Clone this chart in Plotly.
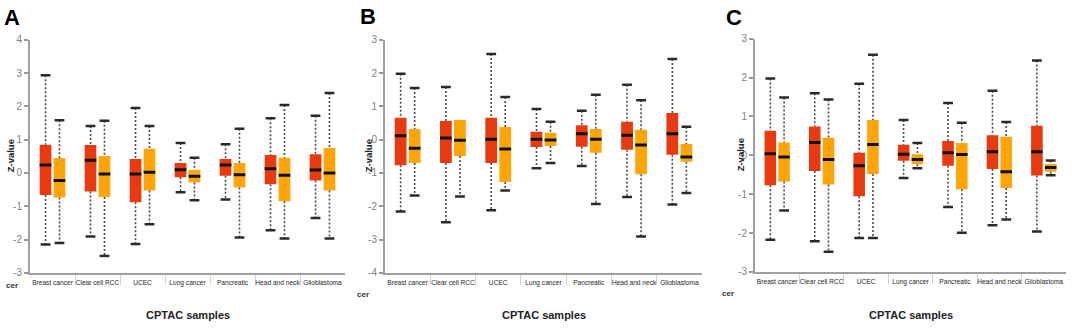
import plotly.graph_objects as go
from plotly.subplots import make_subplots

W, H = 1072, 329

categories = ["Breast cancer", "Clear cell RCC", "UCEC", "Lung cancer",
              "Pancreatic", "Head and neck", "Glioblastoma"]
panel_labels = ["A", "B", "C"]

# Panel A
A_red_upper = [2.93, 1.41, 1.95, 0.90, 0.86, 1.64, 1.72]
A_red_q3 = [0.85, 0.84, 0.42, 0.30, 0.42, 0.54, 0.56]
A_red_med = [0.24, 0.38, -0.03, 0.10, 0.24, 0.13, 0.09]
A_red_q1 = [-0.66, -0.56, -0.88, -0.13, -0.08, -0.34, -0.23]
A_red_lower = [-2.15, -1.91, -2.13, -0.58, -0.80, -1.72, -1.35]
A_org_upper = [1.58, 1.57, 1.41, 0.46, 1.33, 2.04, 2.40]
A_org_q3 = [0.45, 0.51, 0.73, 0.10, 0.30, 0.46, 0.75]
A_org_med = [-0.23, -0.03, 0.02, -0.10, -0.05, -0.07, 0.00]
A_org_q1 = [-0.74, -0.72, -0.53, -0.29, -0.44, -0.85, -0.53]
A_org_lower = [-2.10, -2.49, -1.54, -0.82, -1.94, -1.97, -1.97]

# Panel B
B_red_upper = [1.98, 1.58, 2.57, 0.92, 0.87, 1.65, 2.42]
B_red_q3 = [0.66, 0.56, 0.66, 0.24, 0.43, 0.54, 0.80]
B_red_med = [0.12, 0.05, 0.01, 0.01, 0.18, 0.13, 0.18]
B_red_q1 = [-0.77, -0.70, -0.70, -0.22, -0.21, -0.30, -0.45]
B_red_lower = [-2.16, -2.48, -2.12, -0.86, -0.79, -1.72, -1.95]
B_org_upper = [1.55, 0.59, 1.28, 0.54, 1.35, 1.18, 0.39]
B_org_q3 = [0.32, 0.59, 0.38, 0.21, 0.32, 0.30, -0.13]
B_org_med = [-0.26, -0.02, -0.28, -0.01, 0.01, -0.16, -0.52]
B_org_q1 = [-0.70, -0.49, -1.27, -0.19, -0.39, -1.04, -0.66]
B_org_lower = [-1.68, -1.71, -1.53, -0.70, -1.93, -2.91, -1.60]

# Panel C
C_red_upper = [1.98, 1.60, 1.84, 0.91, 1.35, 1.66, 2.44]
C_red_q3 = [0.63, 0.74, 0.07, 0.27, 0.37, 0.52, 0.76]
C_red_med = [0.04, 0.33, -0.27, 0.03, 0.07, 0.09, 0.09]
C_red_q1 = [-0.77, -0.40, -1.05, -0.14, -0.27, -0.35, -0.52]
C_red_lower = [-2.17, -2.21, -2.13, -0.58, -1.33, -1.80, -1.96]
C_org_upper = [1.49, 1.44, 2.59, 0.32, 0.84, 0.86, -0.13]
C_org_q3 = [0.33, 0.45, 0.91, 0.03, 0.32, 0.48, -0.22]
C_org_med = [-0.04, -0.11, 0.28, -0.11, 0.02, -0.42, -0.31]
C_org_q1 = [-0.67, -0.75, -0.48, -0.23, -0.87, -0.84, -0.42]
C_org_lower = [-1.42, -2.48, -2.13, -0.33, -1.99, -1.65, -0.51]

y_ranges = [[-3, 4], [-4, 3], [-3, 3]]
y_ticks_A = [-3, -2, -1, 0, 1, 2, 3, 4]
y_ticks_B = [-4, -3, -2, -1, 0, 1, 2, 3]
y_ticks_C = [-3, -2, -1, 0, 1, 2, 3]

RED = "#E83A10"
ORANGE = "#FFA50A"
WHISK = "#4a4a4a"
CAP = "#2a2a2a"

panels = [
    (A_red_lower, A_red_q1, A_red_med, A_red_q3, A_red_upper,
     A_org_lower, A_org_q1, A_org_med, A_org_q3, A_org_upper, y_ticks_A),
    (B_red_lower, B_red_q1, B_red_med, B_red_q3, B_red_upper,
     B_org_lower, B_org_q1, B_org_med, B_org_q3, B_org_upper, y_ticks_B),
    (C_red_lower, C_red_q1, C_red_med, C_red_q3, C_red_upper,
     C_org_lower, C_org_q1, C_org_med, C_org_q3, C_org_upper, y_ticks_C),
]

# layout geometry in pixels
x_doms_px = [(30, 345), (385, 702), (755, 1066)]
y_doms_px = [(35, 277), (35, 277), (34, 276)]

fig = make_subplots(rows=1, cols=3)

BOXW = 0.26
OFF = 0.155
LABEL_FONT = "Liberation Sans Narrow, Arial Narrow, Liberation Sans, Arial, sans-serif"

for p, data in enumerate(panels):
    col = p + 1
    series = [(data[0:5], RED, -OFF), (data[5:10], ORANGE, OFF)]
    for (lo, q1, med, q3, up), color, off in series:
        xs = [i + off for i in range(len(categories))]
        # boxes
        fig.add_trace(go.Bar(
            x=xs, y=[b - a for a, b in zip(q1, q3)], base=q1, width=BOXW,
            marker=dict(color=color, line=dict(width=0)),
            showlegend=False, hoverinfo="skip"), row=1, col=col)
        # whiskers (dashed)
        wx, wy = [], []
        for x, l, a, b, u in zip(xs, lo, q1, q3, up):
            if u > b:
                wx += [x, x, None]
                wy += [u, b, None]
            if l < a:
                wx += [x, x, None]
                wy += [a, l, None]
        fig.add_trace(go.Scatter(
            x=wx, y=wy, mode="lines",
            line=dict(color=WHISK, width=1.6, dash="2px,2px"),
            showlegend=False, hoverinfo="skip"), row=1, col=col)
        # caps
        cx, cy = [], []
        for x, l, a, b, u in zip(xs, lo, q1, q3, up):
            if u > b:
                cx.append(x); cy.append(u)
            if l < a:
                cx.append(x); cy.append(l)
        fig.add_trace(go.Scatter(
            x=cx, y=cy, mode="markers",
            marker=dict(symbol="line-ew", size=7, line=dict(width=2.5, color=CAP)),
            showlegend=False, hoverinfo="skip"), row=1, col=col)
        # medians
        mx, my = [], []
        for x, m in zip(xs, med):
            mx += [x - BOXW / 2, x + BOXW / 2, None]
            my += [m, m, None]
        fig.add_trace(go.Scatter(
            x=mx, y=my, mode="lines", line=dict(color="#111111", width=3),
            showlegend=False, hoverinfo="skip"), row=1, col=col)

    x0, x1 = x_doms_px[p]
    yt, yb = y_doms_px[p]
    xa = "xaxis" if p == 0 else f"xaxis{col}"
    ya = "yaxis" if p == 0 else f"yaxis{col}"
    yticks = data[10]
    fig.layout[xa].update(
        domain=[x0 / W, x1 / W], range=[-0.5, len(categories) - 0.5],
        tickvals=list(range(len(categories))), ticktext=categories,
        tickangle=0, ticklabeloverflow="allow",
        ticks="outside", ticklen=2, tickcolor="rgba(0,0,0,0)",
        tickfont=dict(family=LABEL_FONT, size=6.6, color="#262626"),
        showline=True, linecolor="#a0a0a0", linewidth=2,
        showgrid=False, zeroline=False, fixedrange=True,
        minor=dict(tickvals=[i + 0.5 for i in range(len(categories) - 1)],
                   ticks="outside", ticklen=10, tickcolor="#d0d0d0", tickwidth=1),
    )
    fig.layout[ya].update(
        domain=[1 - yb / H, 1 - yt / H], range=y_ranges[p],
        tickvals=yticks, ticktext=[str(v) for v in yticks],
        ticks="outside", ticklen=4, tickcolor="#999999", tickwidth=1.5,
        tickfont=dict(family=LABEL_FONT, size=10, color="#808080"),
        showline=True, linecolor="#a0a0a0", linewidth=2,
        showgrid=False, zeroline=False, fixedrange=True,
    )

annots = []
letter_pos = [(2, 12), (358, 11), (724, 12)]
zval_pos = [(10, 156), (368, 156), (740, 155)]
cer_pos = [(12, 290), (363, 299), (728, 298)]
for p in range(3):
    x0, x1 = x_doms_px[p]
    annots.append(dict(x=(x0 + x1) / 2 / W, y=1 - 321 / H, xref="paper", yref="paper",
                       text="<b>CPTAC samples</b>", showarrow=False,
                       font=dict(family=LABEL_FONT, size=11, color="#222222"),
                       xanchor="center", yanchor="middle"))
    lx, ly = letter_pos[p]
    annots.append(dict(x=lx / W, y=1 - ly / H, xref="paper", yref="paper",
                       text=f"<b>{panel_labels[p]}</b>", showarrow=False,
                       font=dict(family="Liberation Sans, Arial, sans-serif", size=22, color="#000000"),
                       xanchor="left", yanchor="middle"))
    zx, zy = zval_pos[p]
    annots.append(dict(x=zx / W, y=1 - zy / H, xref="paper", yref="paper",
                       text="<b>Z-value</b>", showarrow=False, textangle=-90,
                       font=dict(family=LABEL_FONT, size=9.5, color="#222222"),
                       xanchor="center", yanchor="middle"))
    cx_, cy_ = cer_pos[p]
    annots.append(dict(x=cx_ / W, y=1 - cy_ / H, xref="paper", yref="paper",
                       text="<b>cer</b>", showarrow=False,
                       font=dict(family=LABEL_FONT, size=8, color="#333333"),
                       xanchor="center", yanchor="middle"))

fig.update_layout(
    width=W, height=H, margin=dict(l=0, r=0, t=0, b=0),
    paper_bgcolor="white", plot_bgcolor="white",
    barmode="overlay", showlegend=False, annotations=annots,
)

fig.write_html(
    "out.html",
    config={"displayModeBar": False},
    post_script="document.body.style.margin='0px';document.documentElement.style.overflow='hidden';",
)
